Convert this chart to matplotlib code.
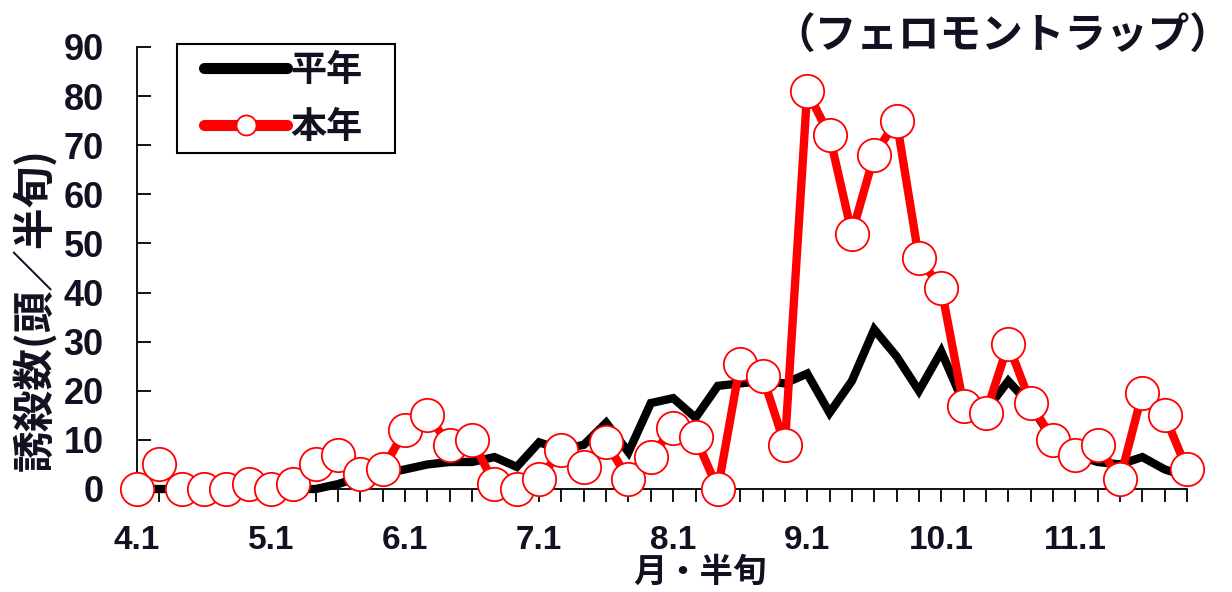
import matplotlib.pyplot as plt
import numpy as np
from matplotlib.patches import Rectangle

plt.rcParams['font.family'] = ['Noto Sans CJK JP', 'DejaVu Sans']

# 半旬 periods from 4.1 to 11.6 (6 per month)
months = [4, 5, 6, 7, 8, 9, 10, 11]
tick_labels = [f'{m}.1' for m in months]

# 平年 (average year)
normal = [0, 0, 0, 0, 0, 0, 0, 0, 0, 1, 2.5, 3, 4, 5, 5.5, 5.5,
          6.5, 4.5, 9.5, 8, 9, 13.5, 7.5, 17.5, 18.5, 14.5, 21, 21.5,
          22, 21.5, 23.5, 15.5, 22, 32.5, 27, 20, 28, 17.5, 16, 22,
          17, 10, 7, 5.5, 5, 6.5, 4, 2.5]

# 本年 (this year)
this_year = [0, 5, 0, 0, 0, 1, 0, 1, 5, 7, 3, 4, 12, 15, 9, 10,
             1, 0, 2, 8, 4.5, 9.5, 2, 6.5, 12.5, 10.5, 0, 25.5,
             23, 9, 81, 72, 52, 68, 75, 47, 41, 17, 15.5, 29.5,
             17.5, 10, 7, 9, 2, 19.5, 15, 4]

x = np.arange(len(this_year))
text_color = '#111122'
num_font = ['Liberation Sans', 'DejaVu Sans']

W, H = 1232, 592
fig = plt.figure(figsize=(W / 100, H / 100), dpi=100)
ax = fig.add_axes([137 / W, 1 - 489 / H, 1050 / W, 442 / H])

ax.plot(x, normal, color='black', linewidth=6, solid_joinstyle='miter',
        solid_capstyle='round', zorder=2, label='平年', clip_on=False)
ax.plot(x, this_year, color='#ff0000', linewidth=6, marker='o',
        markersize=24, markerfacecolor='white', markeredgecolor='#ff0000',
        markeredgewidth=1.3, solid_capstyle='round', zorder=3, label='本年',
        clip_on=False)

ax.set_xlim(0, len(x) - 1)
ax.set_ylim(0, 90)

# a tick at every 半旬, a label at the first 半旬 of each month
ax.set_xticks(x)
ax.set_xticklabels([tick_labels[i // 6] if i % 6 == 0 else '' for i in x],
                   family=num_font, fontweight='bold', fontsize=24,
                   color=text_color)
ax.tick_params(axis='x', direction='out', length=9, width=1.3, pad=17)

ax.set_yticks(np.arange(0, 91, 10))
ax.set_yticklabels([str(v) for v in range(0, 91, 10)], family=num_font,
                   fontweight='bold', fontsize=26, color=text_color)
ax.tick_params(axis='y', direction='in', length=10, width=1.3, pad=24)

for side in ['top', 'right']:
    ax.spines[side].set_visible(False)
for side in ['left', 'bottom']:
    ax.spines[side].set_linewidth(1.3)

fig.text(34 / W, 1 - 310 / H, '誘殺数(頭／半旬)', rotation=90,
         ha='center', va='center', fontsize=30, fontweight='bold',
         color=text_color)
fig.text(700 / W, 1 - 572 / H, '月・半旬', ha='center', va='center',
         fontsize=24, fontweight='bold', color=text_color)
fig.text(1231 / W, 1 - 37 / H, '（フェロモントラップ）', ha='right',
         va='center', fontsize=30, fontweight='bold', color=text_color)

# legend frame drawn separately so the side padding can differ from the top
ax.add_patch(Rectangle((177 / W, 1 - 153 / H), 218 / W, 109 / H,
                       transform=fig.transFigure, facecolor='white',
                       edgecolor='black', linewidth=1.5, zorder=4,
                       clip_on=False))
leg = ax.legend(loc='center left', bbox_to_anchor=(204 / W, 1 - 99 / H),
                bbox_transform=fig.transFigure, frameon=False,
                borderaxespad=0, borderpad=0, handlelength=2.3,
                handletextpad=0.1, labelspacing=0.55, numpoints=1,
                markerscale=0.6, prop={'weight': 'bold', 'size': 26})
leg.set_zorder(5)
for t in leg.get_texts():
    t.set_color(text_color)
for h in leg.get_lines():
    h.set_linewidth(8)

fig.savefig('out.png', dpi=100)
